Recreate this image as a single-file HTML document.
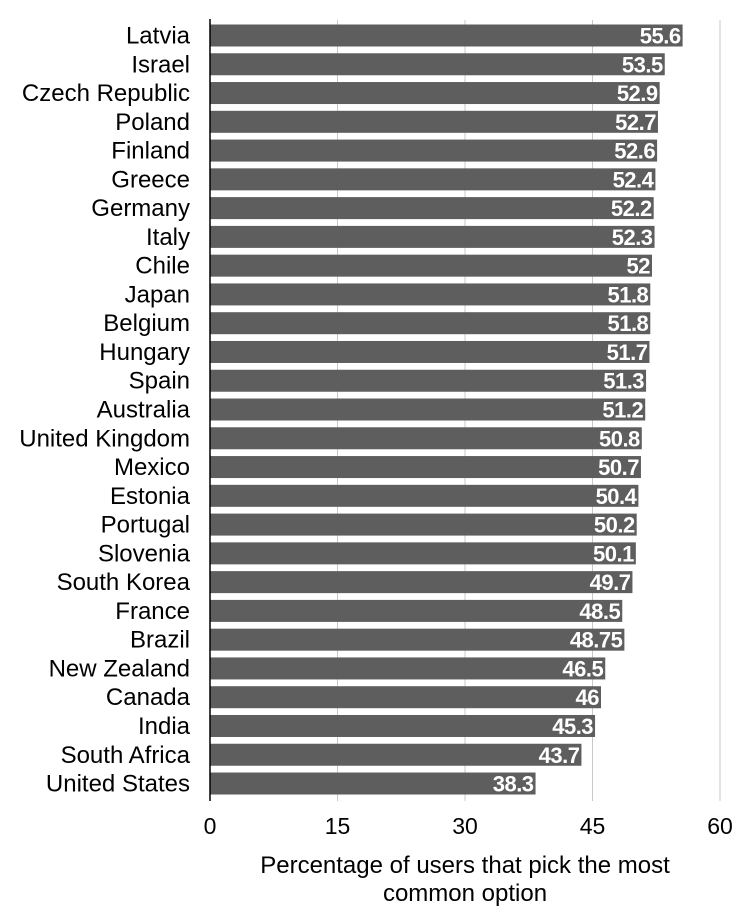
<!DOCTYPE html>
<html><head><meta charset="utf-8"><style>
body{margin:0;background:#fff;width:746px;height:914px;overflow:hidden;font-family:"Liberation Sans",Arial,sans-serif}
</style></head><body>
<svg id="chart" width="746" height="914" xmlns="http://www.w3.org/2000/svg"></svg>
<script>
const categories=["Latvia","Israel","Czech Republic","Poland","Finland","Greece","Germany","Italy","Chile","Japan","Belgium","Hungary","Spain","Australia","United Kingdom","Mexico","Estonia","Portugal","Slovenia","South Korea","France","Brazil","New Zealand","Canada","India","South Africa","United States"];
const values=[55.6,53.5,52.9,52.7,52.6,52.4,52.2,52.3,52,51.8,51.8,51.7,51.3,51.2,50.8,50.7,50.4,50.2,50.1,49.7,48.5,48.75,46.5,46,45.3,43.7,38.3];
const valueLabels=["55.6","53.5","52.9","52.7","52.6","52.4","52.2","52.3","52","51.8","51.8","51.7","51.3","51.2","50.8","50.7","50.4","50.2","50.1","49.7","48.5","48.75","46.5","46","45.3","43.7","38.3"];
const ticks=[0,15,30,45,60];
const svg=document.getElementById('chart');
const NS='http://www.w3.org/2000/svg';
const x0=210,x1=720,xMax=60;
const xs=v=>x0+(v/xMax)*(x1-x0);
const yTop=35.5,step=28.77,barH=22;
const ys=i=>yTop+i*step;
function mk(t,a){const e=document.createElementNS(NS,t);for(const k in a)e.setAttribute(k,a[k]);svg.appendChild(e);return e;}
ticks.forEach(t=>{
 if(t>0){const g=mk('line',{x1:xs(t),x2:xs(t),y1:20,y2:801,stroke:'#c8c8c8','stroke-width':1});
 
 }
 const l=mk('text',{x:xs(t),y:834,'text-anchor':'middle','font-size':23,fill:'#000'});
 l.textContent=t;
 
 
});
categories.forEach((c,i)=>{
 const y=ys(i);
 const r=mk('rect',{x:x0,y:y-barH/2,width:xs(values[i])-x0,height:barH,fill:'#5e5e5e'});
 
 
 const v=mk('text',{x:xs(values[i])-2,y:y+8,'text-anchor':'end','font-size':22,'font-weight':'bold',fill:'#fff','letter-spacing':'-0.5'});
 v.textContent=valueLabels[i];
 
 
 const t=mk('text',{x:190,y:y+8,'text-anchor':'end','font-size':24,fill:'#000'});
 t.textContent=c;
 
 
});
const ax=mk('line',{x1:x0,x2:x0,y1:19,y2:801,stroke:'#000','stroke-width':1.5});


const t1=mk('text',{x:465,y:873,'text-anchor':'middle','font-size':24,fill:'#000'});
t1.textContent='Percentage of users that pick the most';


const t2=mk('text',{x:465,y:901,'text-anchor':'middle','font-size':24,fill:'#000'});
t2.textContent='common option';


</script>
</body></html>
